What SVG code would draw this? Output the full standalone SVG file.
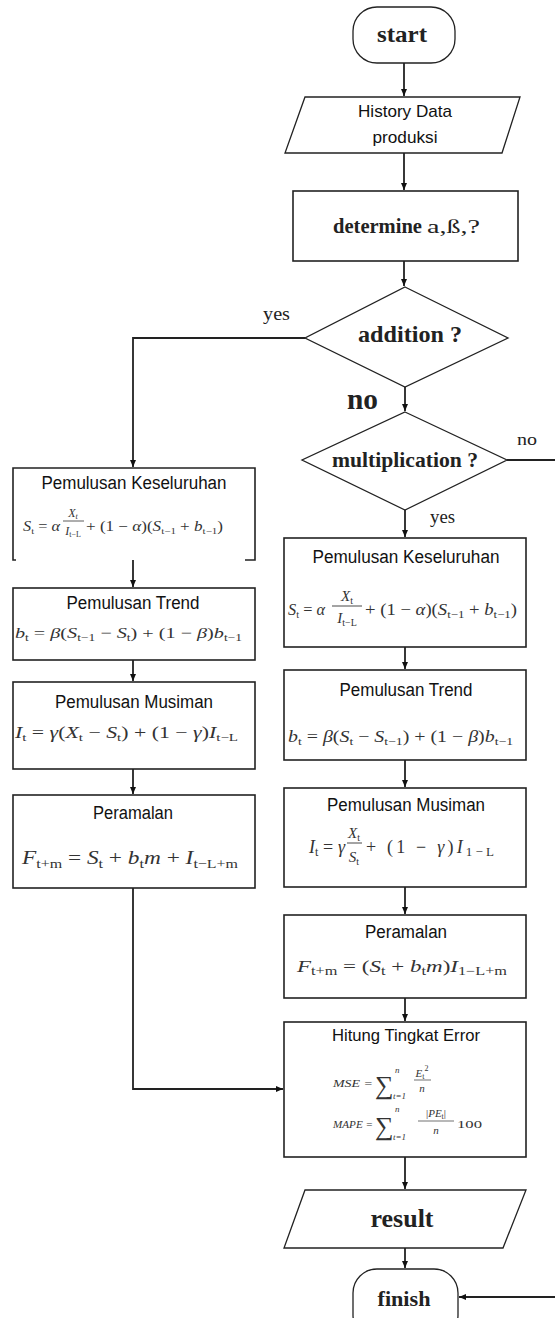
<svg xmlns="http://www.w3.org/2000/svg" width="555" height="1318" viewBox="0 0 555 1318">
<defs>
<style>
.box{fill:#fff;stroke:#222;stroke-width:1.6}
.thin{fill:#fff;stroke:#222;stroke-width:1.3}
.cn{fill:none;stroke:#222;stroke-width:1.8}
.b{font-family:"Liberation Serif","Times New Roman",serif;font-weight:bold;fill:#222}
.r{font-family:"Liberation Serif","Times New Roman",serif;fill:#222}
.s{font-family:"Liberation Sans",Arial,sans-serif;fill:#111}
.f{font-family:"Liberation Serif","Times New Roman",serif;fill:#333}
.i{font-style:italic}
</style>
<marker id="ah" markerWidth="8" markerHeight="8" refX="7" refY="4" orient="auto" markerUnits="userSpaceOnUse"><path d="M0,1 L7,4 L0,7 z" fill="#111"/></marker>
</defs>
<rect width="555" height="1318" fill="#fff"/>

<g id="connectors">
<path class="cn" d="M404,63 V96" marker-end="url(#ah)"/>
<path class="cn" d="M404,153 V190" marker-end="url(#ah)"/>
<path class="cn" d="M404,261 V286" marker-end="url(#ah)"/>
<path class="cn" d="M305,338 H133 V467" marker-end="url(#ah)"/>
<path class="cn" d="M405,387 V411" marker-end="url(#ah)"/>
<path class="cn" d="M507,460 H556"/>
<path class="cn" d="M405,510 V537" marker-end="url(#ah)"/>
<path class="cn" d="M133,560 V587" marker-end="url(#ah)"/>
<path class="cn" d="M133,660 V681" marker-end="url(#ah)"/>
<path class="cn" d="M133,769 V794" marker-end="url(#ah)"/>
<path class="cn" d="M133,888 V1089 H283" marker-end="url(#ah)"/>
<path class="cn" d="M405,647 V669" marker-end="url(#ah)"/>
<path class="cn" d="M405,760 V787" marker-end="url(#ah)"/>
<path class="cn" d="M405,887 V914" marker-end="url(#ah)"/>
<path class="cn" d="M405,998 V1021" marker-end="url(#ah)"/>
<path class="cn" d="M405,1157 V1189" marker-end="url(#ah)"/>
<path class="cn" d="M405,1248 V1268" marker-end="url(#ah)"/>
<path class="cn" d="M556,1297 H459" marker-end="url(#ah)"/>
<text class="r" x="263" y="320" font-size="19" textLength="27" lengthAdjust="spacingAndGlyphs">yes</text>
<text class="b" x="347" y="409" font-size="29" textLength="31" lengthAdjust="spacingAndGlyphs">no</text>
<text class="r" x="517" y="445" font-size="16" textLength="20" lengthAdjust="spacingAndGlyphs">no</text>
<text class="r" x="430" y="523" font-size="18" textLength="25" lengthAdjust="spacingAndGlyphs">yes</text>
</g>

<g id="start">
<rect class="thin" x="353" y="7" width="102" height="56" rx="24"/>
<text class="b" x="402" y="42" font-size="24" text-anchor="middle" textLength="50" lengthAdjust="spacingAndGlyphs">start</text>
</g>

<g id="history">
<polygon class="thin" points="305,97 520,97 502,153 285,153"/>
<text class="s" x="405" y="117" font-size="17" text-anchor="middle" textLength="94" lengthAdjust="spacingAndGlyphs">History Data</text>
<text class="s" x="405" y="143" font-size="17" text-anchor="middle" textLength="65" lengthAdjust="spacingAndGlyphs">produksi</text>
</g>

<g id="determine">
<rect class="box" x="293" y="191" width="225" height="70"/>
<text class="b" x="333" y="233" font-size="20" textLength="89" lengthAdjust="spacingAndGlyphs">determine</text>
<text class="r" x="427" y="233" font-size="18" textLength="53" lengthAdjust="spacingAndGlyphs">a,ß,?</text>
</g>

<g id="addition">
<polygon class="thin" points="405,287 508,338 405,387 305,338"/>
<text class="b" x="410" y="342" font-size="24" text-anchor="middle" textLength="104" lengthAdjust="spacingAndGlyphs">addition ?</text>
</g>

<g id="multiplication">
<polygon class="thin" points="405,412 507,460 405,510 302,460"/>
<text class="b" x="405" y="467" font-size="21" text-anchor="middle" textLength="146" lengthAdjust="spacingAndGlyphs">multiplication ?</text>
</g>

<g id="left-keseluruhan">
<path class="box" fill="none" d="M16,560 H13 V468 H255 V560 H245"/>
<text class="s" x="134" y="489" font-size="18" text-anchor="middle" textLength="185" lengthAdjust="spacingAndGlyphs">Pemulusan Keseluruhan</text>
<text class="f" x="23" y="531" font-size="14" textLength="37" lengthAdjust="spacingAndGlyphs"><tspan class="i">S</tspan><tspan font-size="9" dy="3">t</tspan><tspan dy="-3"> = </tspan><tspan class="i">α</tspan></text>
<text class="f" x="73" y="517" font-size="12" text-anchor="middle"><tspan class="i">X</tspan><tspan class="i" font-size="8" dy="2">t</tspan></text>
<line x1="63" y1="521" x2="84" y2="521" stroke="#333" stroke-width="0.8"/>
<text class="f" x="73" y="535" font-size="12" text-anchor="middle"><tspan class="i">I</tspan><tspan font-size="8" dy="2">t−L</tspan></text>
<text class="f" x="86" y="531" font-size="14" textLength="137" lengthAdjust="spacingAndGlyphs">+ (1 − <tspan class="i">α</tspan>)(<tspan class="i">S</tspan><tspan font-size="9" dy="3">t−1</tspan><tspan dy="-3"> + </tspan><tspan class="i">b</tspan><tspan font-size="9" dy="3">t−1</tspan><tspan dy="-3">)</tspan></text>
</g>

<g id="left-trend">
<rect class="box" x="13" y="588" width="242" height="72"/>
<text class="s" x="133" y="609" font-size="18" text-anchor="middle" textLength="133" lengthAdjust="spacingAndGlyphs">Pemulusan Trend</text>
<text class="f" x="15" y="638" font-size="15" textLength="227" lengthAdjust="spacingAndGlyphs"><tspan class="i">b</tspan><tspan font-size="10" dy="3">t</tspan><tspan dy="-3"> = </tspan><tspan class="i">β</tspan>(<tspan class="i">S</tspan><tspan font-size="10" dy="3">t−1</tspan><tspan dy="-3"> − </tspan><tspan class="i">S</tspan><tspan font-size="10" dy="3">t</tspan><tspan dy="-3">) + (1 − </tspan><tspan class="i">β</tspan>)<tspan class="i">b</tspan><tspan font-size="10" dy="3">t−1</tspan></text>
</g>

<g id="left-musiman">
<rect class="box" x="13" y="682" width="242" height="87"/>
<text class="s" x="134" y="708" font-size="18" text-anchor="middle" textLength="158" lengthAdjust="spacingAndGlyphs">Pemulusan Musiman</text>
<text class="f" x="15" y="738" font-size="16" textLength="223" lengthAdjust="spacingAndGlyphs"><tspan class="i">I</tspan><tspan font-size="11" dy="3">t</tspan><tspan dy="-3"> = </tspan><tspan class="i">γ</tspan>(<tspan class="i">X</tspan><tspan font-size="11" dy="3">t</tspan><tspan dy="-3"> − </tspan><tspan class="i">S</tspan><tspan font-size="11" dy="3">t</tspan><tspan dy="-3">) + (1 − </tspan><tspan class="i">γ</tspan>)<tspan class="i">I</tspan><tspan font-size="11" dy="3">t−L</tspan></text>
</g>

<g id="left-peramalan">
<rect class="box" x="13" y="795" width="242" height="93"/>
<text class="s" x="133" y="819" font-size="18" text-anchor="middle" textLength="80" lengthAdjust="spacingAndGlyphs">Peramalan</text>
<text class="f" x="22" y="864" font-size="19" textLength="216" lengthAdjust="spacingAndGlyphs"><tspan class="i">F</tspan><tspan font-size="13" dy="4">t+m</tspan><tspan dy="-4"> = </tspan><tspan class="i">S</tspan><tspan font-size="13" dy="4">t</tspan><tspan dy="-4"> + </tspan><tspan class="i">b</tspan><tspan font-size="13" dy="4">t</tspan><tspan class="i" dy="-4">m</tspan> + <tspan class="i">I</tspan><tspan font-size="13" dy="4">t−L+m</tspan></text>
</g>

<g id="right-keseluruhan">
<rect class="box" x="284" y="538" width="242" height="109"/>
<text class="s" x="406" y="563" font-size="18" text-anchor="middle" textLength="187" lengthAdjust="spacingAndGlyphs">Pemulusan Keseluruhan</text>
<text class="f" x="288" y="615" font-size="17" textLength="37" lengthAdjust="spacingAndGlyphs"><tspan class="i">S</tspan><tspan font-size="11" dy="3">t</tspan><tspan dy="-3"> = </tspan><tspan class="i">α</tspan></text>
<text class="f" x="347" y="601" font-size="15" text-anchor="middle"><tspan class="i">X</tspan><tspan font-size="10" dy="3">t</tspan></text>
<line x1="332" y1="606" x2="362" y2="606" stroke="#333" stroke-width="0.9"/>
<text class="f" x="347" y="623" font-size="15" text-anchor="middle"><tspan class="i">I</tspan><tspan font-size="10" dy="3">t−L</tspan></text>
<text class="f" x="365" y="615" font-size="16" textLength="152" lengthAdjust="spacingAndGlyphs">+ (1 − <tspan class="i">α</tspan>)(<tspan class="i">S</tspan><tspan font-size="11" dy="3">t−1</tspan><tspan dy="-3"> + </tspan><tspan class="i">b</tspan><tspan font-size="11" dy="3">t−1</tspan><tspan dy="-3">)</tspan></text>
</g>

<g id="right-trend">
<rect class="box" x="284" y="670" width="242" height="90"/>
<text class="s" x="406" y="696" font-size="18" text-anchor="middle" textLength="133" lengthAdjust="spacingAndGlyphs">Pemulusan Trend</text>
<text class="f" x="288" y="742" font-size="16" textLength="225" lengthAdjust="spacingAndGlyphs"><tspan class="i">b</tspan><tspan font-size="11" dy="3">t</tspan><tspan dy="-3"> = </tspan><tspan class="i">β</tspan>(<tspan class="i">S</tspan><tspan font-size="11" dy="3">t</tspan><tspan dy="-3"> − </tspan><tspan class="i">S</tspan><tspan font-size="11" dy="3">t−1</tspan><tspan dy="-3">) + (1 − </tspan><tspan class="i">β</tspan>)<tspan class="i">b</tspan><tspan font-size="11" dy="3">t−1</tspan></text>
</g>

<g id="right-musiman">
<rect class="box" x="284" y="788" width="242" height="99"/>
<text class="s" x="406" y="811" font-size="18" text-anchor="middle" textLength="158" lengthAdjust="spacingAndGlyphs">Pemulusan Musiman</text>
<text class="f" x="309" y="853" font-size="18" textLength="36" lengthAdjust="spacing"><tspan class="i">I</tspan><tspan font-size="12" dy="3">t</tspan><tspan dy="-3"> = </tspan><tspan class="i">γ</tspan></text>
<text class="f" x="354" y="838" font-size="15" text-anchor="middle"><tspan class="i">X</tspan><tspan font-size="10" dy="3">t</tspan></text>
<line x1="347" y1="843" x2="362" y2="843" stroke="#333" stroke-width="0.9"/>
<text class="f" x="354" y="862" font-size="15" text-anchor="middle"><tspan class="i">S</tspan><tspan font-size="10" dy="3">t</tspan></text>
<text class="f" x="366" y="853" font-size="18" textLength="128" lengthAdjust="spacing">+ (1 − <tspan class="i">γ</tspan>)<tspan class="i">I</tspan><tspan font-size="13" dy="3">1−L</tspan></text>
</g>

<g id="right-peramalan">
<rect class="box" x="284" y="915" width="242" height="83"/>
<text class="s" x="406" y="938" font-size="18" text-anchor="middle" textLength="82" lengthAdjust="spacingAndGlyphs">Peramalan</text>
<text class="f" x="297" y="972" font-size="17" textLength="210" lengthAdjust="spacingAndGlyphs"><tspan class="i">F</tspan><tspan font-size="12" dy="3">t+m</tspan><tspan dy="-3"> = (</tspan><tspan class="i">S</tspan><tspan font-size="12" dy="3">t</tspan><tspan dy="-3"> + </tspan><tspan class="i">b</tspan><tspan font-size="12" dy="3">t</tspan><tspan class="i" dy="-3">m</tspan>)<tspan class="i">I</tspan><tspan font-size="12" dy="3">1−L+m</tspan></text>
</g>

<g id="error">
<rect class="box" x="284" y="1022" width="242" height="135"/>
<text class="s" x="406" y="1041" font-size="17" text-anchor="middle" textLength="148" lengthAdjust="spacingAndGlyphs">Hitung Tingkat Error</text>
<text class="f i" x="333" y="1087" font-size="11" textLength="40" lengthAdjust="spacingAndGlyphs">MSE =</text>
<text class="f" x="375" y="1094" font-size="26">∑</text>
<text class="f i" x="395" y="1073" font-size="9">n</text>
<text class="f i" x="393" y="1099" font-size="9">t=1</text>
<text class="f" x="422" y="1077" font-size="11" text-anchor="middle"><tspan class="i">E</tspan><tspan font-size="8" dy="2">t</tspan><tspan font-size="8" dy="-8">2</tspan></text>
<line x1="414" y1="1080" x2="431" y2="1080" stroke="#333" stroke-width="0.7"/>
<text class="f i" x="422" y="1092" font-size="11" text-anchor="middle">n</text>
<text class="f i" x="333" y="1128" font-size="11" textLength="40" lengthAdjust="spacingAndGlyphs">MAPE =</text>
<text class="f" x="375" y="1135" font-size="26">∑</text>
<text class="f i" x="395" y="1112" font-size="9">n</text>
<text class="f i" x="393" y="1140" font-size="9">t=1</text>
<text class="f" x="436" y="1117" font-size="11" text-anchor="middle">|<tspan class="i">PE</tspan><tspan font-size="8" dy="2">t</tspan><tspan dy="-2">|</tspan></text>
<line x1="418" y1="1121" x2="454" y2="1121" stroke="#333" stroke-width="0.7"/>
<text class="f i" x="436" y="1134" font-size="11" text-anchor="middle">n</text>
<text class="f" x="457" y="1128" font-size="11" textLength="25" lengthAdjust="spacingAndGlyphs">100</text>
</g>

<g id="result">
<polygon class="thin" points="305,1190 526,1190 503,1248 284,1248"/>
<text class="b" x="402" y="1227" font-size="26" text-anchor="middle" textLength="63" lengthAdjust="spacingAndGlyphs">result</text>
</g>

<g id="finish">
<rect class="thin" x="353" y="1269" width="105" height="70" rx="24"/>
<text class="b" x="404" y="1306" font-size="22" text-anchor="middle" textLength="53" lengthAdjust="spacingAndGlyphs">finish</text>
</g>
</svg>
